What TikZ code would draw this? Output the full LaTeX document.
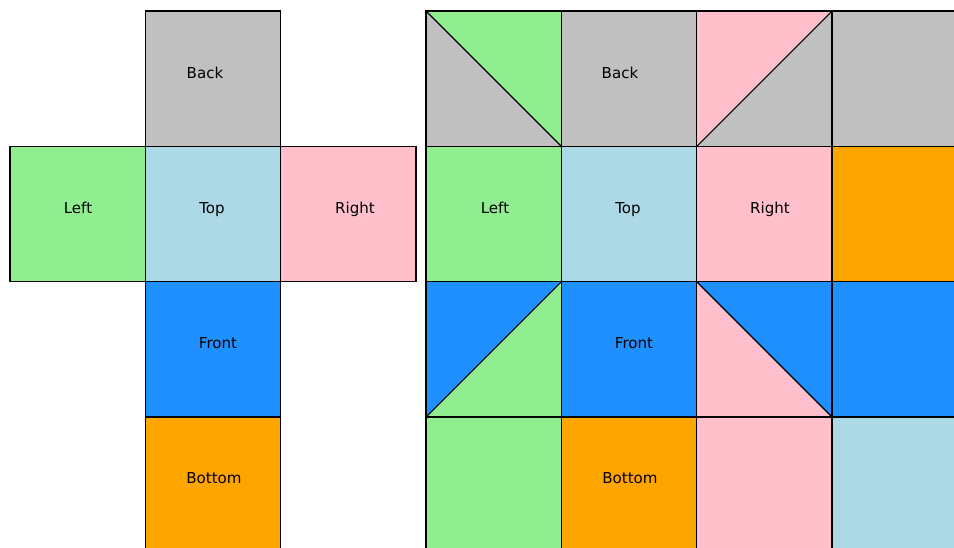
\documentclass[tikz,border=0pt]{standalone}
\usepackage{fontspec}
\setmainfont{DejaVu Sans}
\definecolor{cgray}{HTML}{C0C0C0}
\definecolor{cgreen}{HTML}{90EE90}
\definecolor{cblue}{HTML}{ADD8E6}
\definecolor{cpink}{HTML}{FFC0CB}
\definecolor{cdblue}{HTML}{1E90FF}
\definecolor{corange}{HTML}{FFA500}
\tikzset{
  cellbox/.style={draw=black, line width=0.8pt},
  lbl/.style={font=\fontsize{11.3}{13}\selectfont, text=black, inner sep=0pt, text height=8.2pt, text depth=0pt},
}
\begin{document}
\begin{tikzpicture}[x=0.75pt,y=-0.75pt]
\useasboundingbox (0,0) rectangle (954,547);
\clip (0,0) rectangle (954,547);
% ---- left cross ----
\def\s{135.33}
\filldraw[cellbox, fill=cgray]   (145.33,11) rectangle ++(\s,\s);
\filldraw[cellbox, fill=cgreen]  (10,146.33) rectangle ++(\s,\s);
\filldraw[cellbox, fill=cblue]   (145.33,146.33) rectangle ++(\s,\s);
\filldraw[cellbox, fill=cpink]   (280.67,146.33) rectangle ++(\s,\s);
\filldraw[cellbox, fill=cdblue]  (145.33,281.67) rectangle ++(\s,\s);
\filldraw[cellbox, fill=corange] (145.33,417) rectangle ++(\s,\s);
\node[lbl] (lback)   at (205,73)  {Back};
\node[lbl] (lleft)   at (78,208)  {Left};
\node[lbl] (ltop)    at (212,208) {Top};
\node[lbl] (lright)  at (355,208) {Right};
\node[lbl] (lfront)  at (218,343) {Front};
\node[lbl] (lbottom) at (214,478) {Bottom};
% ---- right grid ----
% row 0
\fill[cgray] (426,11) rectangle ++(\s,\s);
\fill[cgreen] (426,11) -- (561.33,11) -- (561.33,146.33) -- cycle;
\draw[line width=0.8pt] (426,11) -- (561.33,146.33);
\fill[cgray] (561.33,11) rectangle ++(\s,\s);
\fill[cgray] (696.67,11) rectangle ++(\s,\s);
\fill[cpink] (696.67,11) -- (832,11) -- (696.67,146.33) -- cycle;
\draw[line width=0.8pt] (696.67,146.33) -- (832,11);
\fill[cgray] (832,11) rectangle ++(\s,\s);
% row 1
\fill[cgreen] (426,146.33) rectangle ++(\s,\s);
\fill[cblue] (561.33,146.33) rectangle ++(\s,\s);
\fill[cpink] (696.67,146.33) rectangle ++(\s,\s);
\fill[corange] (832,146.33) rectangle ++(\s,\s);
% row 2
\fill[cgreen] (426,281.67) rectangle ++(\s,\s);
\fill[cdblue] (426,281.67) -- (561.33,281.67) -- (426,417) -- cycle;
\draw[line width=0.8pt] (426,417) -- (561.33,281.67);
\fill[cdblue] (561.33,281.67) rectangle ++(\s,\s);
\fill[cpink] (696.67,281.67) rectangle ++(\s,\s);
\fill[cdblue] (696.67,281.67) -- (832,281.67) -- (832,417) -- cycle;
\draw[line width=0.8pt] (696.67,281.67) -- (832,417);
\fill[cdblue] (832,281.67) rectangle ++(\s,\s);
% row 3
\fill[cgreen] (426,417) rectangle ++(\s,\s);
\fill[corange] (561.33,417) rectangle ++(\s,\s);
\fill[cpink] (696.67,417) rectangle ++(\s,\s);
\fill[cblue] (832,417) rectangle ++(\s,\s);
% grid lines
\foreach \r in {0,1,2,3}{
  \foreach \c in {0,1,2,3}{
    \draw[line width=0.8pt] ({426+\c*\s},{11+\r*\s}) rectangle ++(\s,\s);
  }
}
\node[lbl] (rback)   at (620,73)  {Back};
\node[lbl] (rleft)   at (495,208) {Left};
\node[lbl] (rtop)    at (628,208) {Top};
\node[lbl] (rright)  at (770,208) {Right};
\node[lbl] (rfront)  at (634,343) {Front};
\node[lbl] (rbottom) at (630,478) {Bottom};
\end{tikzpicture}
\end{document}
